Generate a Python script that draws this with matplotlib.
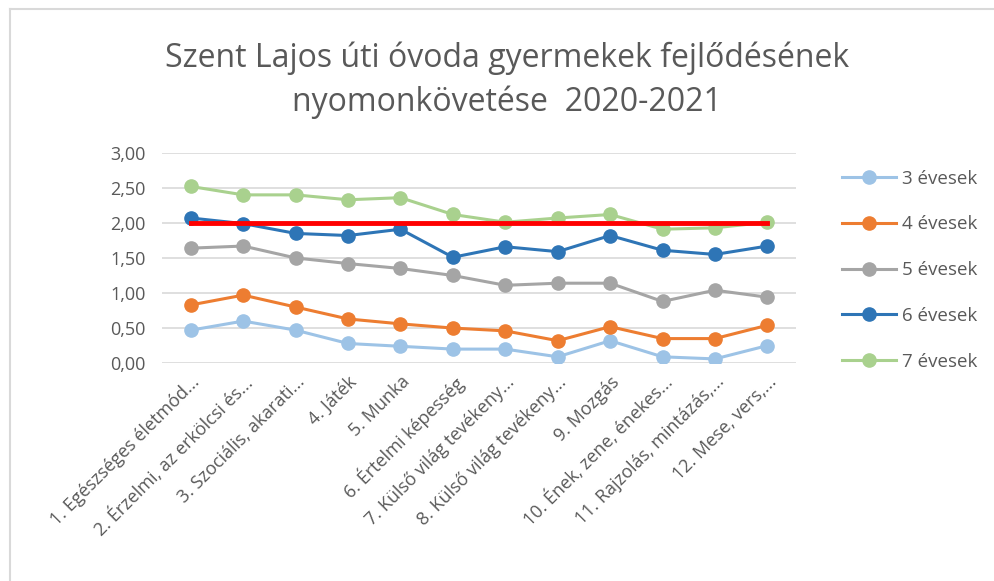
import matplotlib.pyplot as plt
from matplotlib.lines import Line2D
from matplotlib.ticker import FuncFormatter

plt.rcParams['font.family'] = ['Open Sans', 'DejaVu Sans']

categories = [
    "1. Egészséges életmód...",
    "2. Érzelmi, az erkölcsi és...",
    "3. Szociális, akarati...",
    "4. Játék",
    "5. Munka",
    "6. Értelmi képesség",
    "7. Külső világ tevékeny...",
    "8. Külső világ tevékeny...",
    "9. Mozgás",
    "10. Ének, zene, énekes...",
    "11. Rajzolás, mintázás,...",
    "12. Mese, vers,...",
]

ev3 = [0.47, 0.60, 0.47, 0.28, 0.24, 0.20, 0.20, 0.09, 0.32, 0.09, 0.06, 0.25]
ev4 = [0.83, 0.97, 0.80, 0.63, 0.56, 0.50, 0.46, 0.32, 0.52, 0.35, 0.35, 0.54]
ev5 = [1.64, 1.67, 1.50, 1.42, 1.35, 1.25, 1.11, 1.14, 1.14, 0.88, 1.04, 0.94]
ev6 = [2.07, 1.99, 1.85, 1.82, 1.91, 1.51, 1.66, 1.59, 1.82, 1.61, 1.55, 1.67]
ev7 = [2.52, 2.40, 2.40, 2.33, 2.36, 2.12, 2.01, 2.07, 2.12, 1.91, 1.93, 2.01]
target = [2.00] * len(categories)

series = [
    ("3 évesek", ev3, "#9dc3e6"),
    ("4 évesek", ev4, "#ed7d31"),
    ("5 évesek", ev5, "#a5a5a5"),
    ("6 évesek", ev6, "#2e75b6"),
    ("7 évesek", ev7, "#a9d18e"),
]

fig = plt.figure(figsize=(9.94, 5.81), dpi=100)
ax = fig.add_axes([0.163, 0.375, 0.638, 0.362])

x = range(len(categories))
for name, vals, col in series:
    ax.plot(x, vals, color=col, lw=2.2, marker="o", ms=9.5, label=name, zorder=3)
ax.plot(x, target, color="#ff0000", lw=3.5, zorder=4)

ax.set_ylim(0, 3)
ax.set_xlim(-0.55, 11.55)
ax.set_yticks([0, 0.5, 1, 1.5, 2, 2.5, 3])
ax.yaxis.set_major_formatter(FuncFormatter(lambda v, p: f"{v:.2f}".replace(".", ",")))
ax.grid(axis="y", color="#d9d9d9", lw=1.2)
ax.set_axisbelow(True)
for s in ax.spines.values():
    s.set_visible(False)
ax.tick_params(axis="both", length=0, labelsize=13, colors="#595959", pad=7)
ax.tick_params(axis="y", pad=12)
ax.set_xticks(list(x))
ax.set_xticklabels(categories, rotation=45, ha="right", rotation_mode="anchor")

fig.suptitle("Szent Lajos úti óvoda gyermekek fejlődésének\nnyomonkövetése  2020-2021",
             x=0.51, y=0.928, fontsize=23, color="#595959", linespacing=1.4)

leg = ax.legend(loc="upper left", bbox_to_anchor=(1.045, 1.0), frameon=False,
                fontsize=13.5, labelspacing=1.48, handlelength=2.9, handletextpad=0.3)
for t in leg.get_texts():
    t.set_color("#595959")

# frame of the chart area (only top and left edges are visible)
fig.lines.append(Line2D([0.0101, 1.0], [0.9845, 0.9845], transform=fig.transFigure,
                        color="#d9d9d9", lw=1.5))
fig.lines.append(Line2D([0.0101, 0.0101], [0.0, 0.9845], transform=fig.transFigure,
                        color="#d9d9d9", lw=1.5))

fig.savefig("out.png", dpi=100, facecolor="white")
